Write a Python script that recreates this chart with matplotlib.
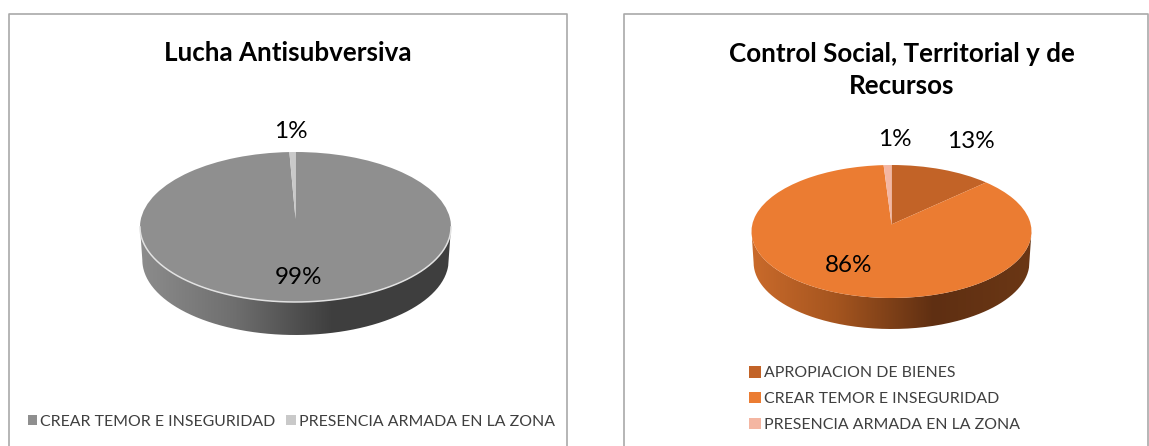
import numpy as np
import matplotlib
matplotlib.use('Agg')
import matplotlib.pyplot as plt
from matplotlib.path import Path
from matplotlib.transforms import Transform

plt.rcParams['font.family'] = ['Lato', 'DejaVu Sans']

W, H = 1149, 446

left_title = 'Lucha Antisubversiva'
left_labels = ['CREAR TEMOR E INSEGURIDAD', 'PRESENCIA ARMADA EN LA ZONA']
left_values = [99.3, 0.7]
left_colors = ['#8f8f8f', '#c9c9c9']

right_title = 'Control Social, Territorial y de\nRecursos'
right_labels = ['APROPIACION DE BIENES', 'CREAR TEMOR E INSEGURIDAD', 'PRESENCIA ARMADA EN LA ZONA']
right_values = [13, 86, 1]
right_colors = ['#c26327', '#eb7c32', '#f4b6a2']


# circle -> tilted circle, the apex ends up above the middle of the ellipse
class Tilt(Transform):
    input_dims = 2
    output_dims = 2
    is_separable = False
    has_inverse = False
    k = 0.107

    def transform_non_affine(self, values):
        v = np.asarray(values, dtype=float)
        w = 1 + self.k * v[:, 1]
        x = v[:, 0] / w * np.sqrt(1 - self.k ** 2)
        y = (v[:, 1] / w + self.k / (1 - self.k ** 2)) * (1 - self.k ** 2)
        return np.column_stack([x, y])


def draw_pie(values, colors, box, depth, wall_stops, rim=None):
    cx, cy, rx, ry = box
    d = depth / ry
    ax = fig.add_axes([(cx - rx) / W, 1 - (cy + ry + depth) / H, 2 * rx / W, (2 * ry + depth) / H])
    wedges, _ = ax.pie(values, colors=colors, startangle=90, counterclock=False, radius=1,
                       wedgeprops={'linewidth': 0, 'clip_on': False})
    ax.set_aspect('auto')
    tilt = Tilt()
    for w in wedges:
        w.set_transform(tilt + ax.transData)
        w.set_zorder(3)

    # side wall, gradient clipped to the lower rim
    t = np.linspace(np.pi, 2 * np.pi, 200)
    top = np.column_stack([np.cos(t), np.sin(t)])
    low = np.column_stack([0.985 * np.cos(t[::-1]), np.sin(t[::-1]) - d])
    verts = np.vstack([top, low, top[:1]])
    xs = np.linspace(0, 1, 256)
    pos, cols = zip(*wall_stops)
    rgb = np.array([matplotlib.colors.to_rgb(c) for c in cols])
    grad = np.stack([np.interp(xs, pos, rgb[:, i]) for i in range(3)], axis=1)[None, :, :]
    im = ax.imshow(grad, extent=(-1, 1, -1 - d, 1), aspect='auto', zorder=1)
    im.set_clip_path(Path(verts), ax.transData)
    ax.set_xlim(-1, 1)
    ax.set_ylim(-1 - d, 1)
    if rim:
        ax.plot(np.cos(t), np.sin(t), color=rim, lw=1.1, zorder=4, clip_on=False)
    return wedges


fig = plt.figure(figsize=(W / 100, H / 100), dpi=100, facecolor='white')
bg = fig.add_axes([0, 0, 1, 1])
bg.set_xlim(0, W)
bg.set_ylim(H, 0)
bg.axis('off')
bg.set_zorder(5)

# panel frames, cut by the bottom of the picture
frame = '#a9a9a9'
bg.plot([8.5, 8.5, 567, 567], [H, 13.5, 13.5, H], color=frame, lw=1.2)
bg.plot([624, 624, 1148, 1148], [H, 13.5, 13.5, H], color=frame, lw=1.2)

left_wedges = draw_pie(left_values, left_colors, (295.5, 227, 155.5, 75), 33,
                       [(0, '#8c8c8c'), (0.3, '#6f6f6f'), (0.62, '#3e3e3e'), (1, '#3f3f3f')], rim='#e2e2e2')
right_wedges = draw_pie(right_values, right_colors, (891.5, 231.5, 140, 66.5), 31,
                        [(0, '#c96a2b'), (0.3, '#a5551f'), (0.65, '#5f2f12'), (1, '#6b3715')])

bg.text(288, 53, left_title, ha='center', va='center', fontsize=18.7, fontweight='bold', color='black')
bg.text(902, 70, right_title, ha='center', va='center', fontsize=18.7, fontweight='bold',
        color='black', linespacing=1.45)

for x, y, s in [(291, 131, '1%'), (299, 277, '99%'), (895, 139, '1%'), (971, 142, '13%'), (849, 265, '86%')]:
    bg.text(x, y, s, ha='center', va='center', fontsize=17.5, color='black')

leg1 = bg.legend(left_wedges, left_labels, loc='center left', bbox_to_anchor=(28 / W, 1 - 421.5 / H),
                 bbox_transform=fig.transFigure, ncol=2, frameon=False, fontsize=11.4,
                 handlelength=0.58, handleheight=0.58, handletextpad=0.2, columnspacing=0.68, borderpad=0,
                 borderaxespad=0, labelcolor='#3f3f3f')
bg.add_artist(leg1)
bg.legend(right_wedges, right_labels, loc='center left', bbox_to_anchor=(749 / W, 1 - 399 / H),
          bbox_transform=fig.transFigure, frameon=False, fontsize=11.4,
          handlelength=0.75, handleheight=0.75, handletextpad=0.2, labelspacing=0.72, borderpad=0,
          borderaxespad=0, labelcolor='#3f3f3f')

fig.savefig('out.png', dpi=100, facecolor='white')
